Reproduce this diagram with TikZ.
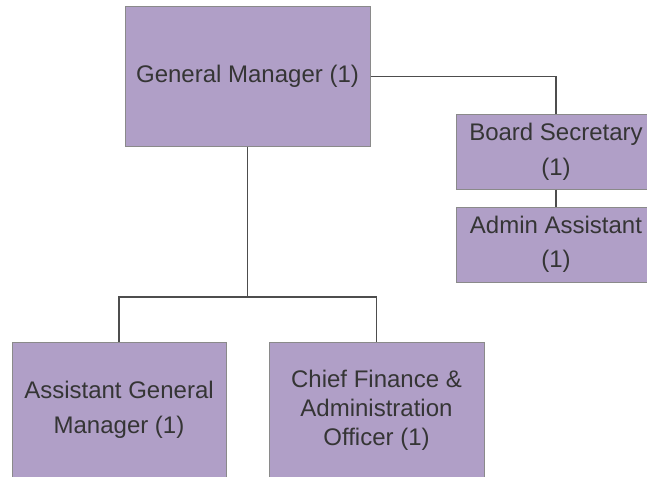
\documentclass[tikz,border=0pt]{standalone}
\usepackage{fontspec}
\setmainfont{Liberation Sans}
\definecolor{boxfill}{HTML}{B09FC7}
\definecolor{boxline}{HTML}{8A8A8A}
\definecolor{conn}{HTML}{4D4D4D}
\definecolor{txt}{HTML}{353535}
\begin{document}
\begin{tikzpicture}[x=1pt,y=-1pt,
  orgbox/.style={draw=boxline, line width=1pt, fill=boxfill, inner sep=0pt,
    align=center, text=txt, font=\fontsize{24}{34.5}\selectfont},
  tight/.style={font=\fontsize{24}{29}\selectfont},
  link/.style={draw=conn, line width=1.3pt}]
\clip (0,0) rectangle (647,476);
\node[orgbox, minimum width=245pt, minimum height=139pt] (gm) at (247.5,76.5) {General Manager (1)};
\node[orgbox, minimum width=200pt, minimum height=74pt] (bs) at (556,152) {Board Secretary\\(1)};
\node[orgbox, minimum width=200pt, minimum height=75pt] (aa) at (556,244.5) {Admin Assistant\\(1)};
\node[orgbox, minimum width=214pt, minimum height=136pt] (agm) at (119,410) {Assistant General\\Manager (1)};
\node[orgbox, tight, minimum width=215pt, minimum height=136pt] (cfao) at (376.5,410) {Chief Finance \&\\Administration\\Officer (1)};
\coordinate (bus) at (247.5,297);
\draw[link] (gm.east) -| (bs.north);
\draw[link] (bs.south) -- (aa.north);
\draw[link] (gm.south) -- (bus);
\draw[link] (bus) -| (agm.north);
\draw[link] (bus) -| (cfao.north);
\end{tikzpicture}
\end{document}
